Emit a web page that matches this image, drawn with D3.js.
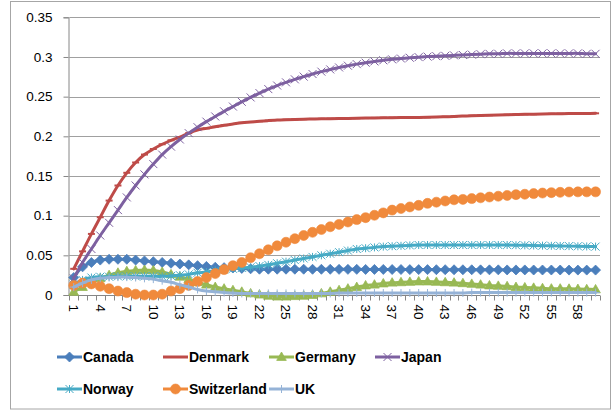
<!DOCTYPE html>
<html>
<head>
<meta charset="utf-8">
<script src="https://cdn.jsdelivr.net/npm/d3@7"></script>
<style>
  body { margin: 0; background: #fff; }
  svg text { font-family: "Liberation Sans", Arial, sans-serif; }
</style>
</head>
<body>
<div id="chart"></div>
<script>
// categories 1..60 along the x axis
var categories = d3.range(1, 61);
var xTickLabels = [1, 4, 7, 10, 13, 16, 19, 22, 25, 28, 31, 34, 37, 40, 43, 46, 49, 52, 55, 58];
var yTicks = [0, 0.05, 0.1, 0.15, 0.2, 0.25, 0.3, 0.35];

var canada = [0.022, 0.0355, 0.041, 0.044, 0.045, 0.045, 0.045, 0.044, 0.043, 0.042,
  0.041, 0.040, 0.039, 0.038, 0.037, 0.036, 0.035, 0.0345, 0.034, 0.0335,
  0.033, 0.0325, 0.0325, 0.0325, 0.0325, 0.0325, 0.0325, 0.0324, 0.0324, 0.0324,
  0.0323, 0.0323, 0.0323, 0.0322, 0.0322, 0.0322, 0.0321, 0.0321, 0.032, 0.032,
  0.032, 0.0319, 0.0319, 0.0318, 0.0318, 0.0318, 0.0317, 0.0317, 0.0317, 0.0316,
  0.0316, 0.0316, 0.0315, 0.0315, 0.0315, 0.0315, 0.0314, 0.0314, 0.0314, 0.0314];

var denmark = [0.033, 0.055, 0.077, 0.098, 0.119, 0.138, 0.154, 0.167, 0.177, 0.184,
  0.190, 0.195, 0.199, 0.204, 0.208, 0.210, 0.212, 0.214, 0.2155, 0.217,
  0.218, 0.219, 0.2198, 0.2205, 0.221, 0.2213, 0.2216, 0.2219, 0.222, 0.2222,
  0.2224, 0.2226, 0.2228, 0.223, 0.2232, 0.2234, 0.2235, 0.2236, 0.2237, 0.2238,
  0.224, 0.2243, 0.2247, 0.225, 0.2255, 0.226, 0.2263, 0.2266, 0.2269, 0.2272,
  0.2275, 0.2277, 0.2279, 0.2281, 0.2283, 0.2285, 0.2286, 0.2287, 0.2288, 0.229];

var germany = [0.004, 0.010, 0.016, 0.021, 0.025, 0.028, 0.030, 0.031, 0.0315, 0.031,
  0.029, 0.026, 0.023, 0.020, 0.016, 0.013, 0.010, 0.008, 0.006, 0.004,
  0.002, 0.0005, -0.001, -0.002, -0.002, -0.0015, -0.001, 0.000, 0.002, 0.004,
  0.006, 0.008, 0.010, 0.012, 0.013, 0.0145, 0.0155, 0.016, 0.0165, 0.017,
  0.017, 0.0165, 0.016, 0.0155, 0.0148, 0.014, 0.013, 0.012, 0.0115, 0.011,
  0.010, 0.0095, 0.009, 0.0085, 0.008, 0.008, 0.0078, 0.0075, 0.0072, 0.007];

var japan = [0.021, 0.041, 0.058, 0.075, 0.091, 0.107, 0.123, 0.138, 0.152, 0.165,
  0.177, 0.187, 0.196, 0.204, 0.2115, 0.2185, 0.225, 0.2315, 0.2375, 0.2435,
  0.249, 0.2545, 0.2595, 0.264, 0.268, 0.2718, 0.2752, 0.2785, 0.2815, 0.2843,
  0.2868, 0.289, 0.291, 0.2928, 0.2944, 0.2958, 0.297, 0.298, 0.299, 0.2998,
  0.3005, 0.301, 0.3015, 0.302, 0.3025, 0.303, 0.3035, 0.304, 0.304, 0.3045,
  0.3045, 0.3045, 0.3045, 0.3045, 0.3045, 0.3045, 0.3045, 0.3045, 0.304, 0.304];

var norway = [0.013, 0.019, 0.022, 0.023, 0.023, 0.0235, 0.0235, 0.0235, 0.0235, 0.0235,
  0.0235, 0.024, 0.025, 0.026, 0.028, 0.029, 0.031, 0.032, 0.033, 0.034,
  0.035, 0.0365, 0.038, 0.040, 0.042, 0.044, 0.046, 0.048, 0.050, 0.052,
  0.054, 0.056, 0.058, 0.059, 0.060, 0.061, 0.0615, 0.062, 0.0625, 0.063,
  0.063, 0.063, 0.063, 0.063, 0.063, 0.063, 0.063, 0.063, 0.063, 0.063,
  0.0628, 0.0626, 0.0624, 0.0622, 0.062, 0.0618, 0.0616, 0.0614, 0.0612, 0.061];

var switzerland = [0.012, 0.015, 0.014, 0.011, 0.008, 0.005, 0.003, 0.001, 0.0, 0.0,
  0.001, 0.005, 0.008, 0.012, 0.017, 0.022, 0.027, 0.032, 0.037, 0.041,
  0.047, 0.052, 0.057, 0.062, 0.0665, 0.071, 0.075, 0.079, 0.0825, 0.086,
  0.089, 0.092, 0.095, 0.0975, 0.1005, 0.1035, 0.107, 0.109, 0.111, 0.113,
  0.1155, 0.117, 0.1185, 0.12, 0.1205, 0.1215, 0.1225, 0.1235, 0.1245, 0.1255,
  0.1265, 0.127, 0.1278, 0.1285, 0.129, 0.1294, 0.1298, 0.130, 0.130, 0.130];

var uk = [0.010, 0.015, 0.019, 0.021, 0.022, 0.0225, 0.0225, 0.022, 0.021, 0.020,
  0.018, 0.016, 0.013, 0.010, 0.007, 0.005, 0.004, 0.003, 0.0025, 0.002,
  0.002, 0.002, 0.002, 0.002, 0.002, 0.002, 0.002, 0.002, 0.002, 0.002,
  0.0025, 0.0025, 0.0025, 0.0025, 0.0025, 0.0025, 0.0025, 0.0025, 0.0025, 0.0025,
  0.0025, 0.0025, 0.0025, 0.0025, 0.0025, 0.003, 0.003, 0.003, 0.003, 0.003,
  0.003, 0.003, 0.003, 0.003, 0.003, 0.003, 0.003, 0.003, 0.003, 0.003];

var seriesNames = ['Canada', 'Denmark', 'Germany', 'Japan', 'Norway', 'Switzerland', 'UK'];
var seriesValues = [canada, denmark, germany, japan, norway, switzerland, uk];
var seriesColors = ['#4A7EBB', '#BE4B48', '#98B954', '#7D60A0', '#46AAC5', '#F08A3C', '#95B3D7'];
var seriesMarkers = ['diamond', 'dash', 'triangle', 'x', 'star', 'circle', 'plus'];

var width = 613, height = 412;
var plot = {left: 69.3, right: 600, top: 17.3, bottom: 295};

var svg = d3.select('#chart').append('svg')
  .attr('width', width)
  .attr('height', height);

// chart border
svg.append('rect')
  .attr('x', 10.5).attr('y', 1.5)
  .attr('width', 600).attr('height', 407.5)
  .attr('fill', '#fff')
  .attr('stroke', '#A6A6A6')
  .attr('stroke-width', 1);

var x = d3.scaleBand()
  .domain(categories)
  .range([plot.left, plot.right]);

var y = d3.scaleLinear()
  .domain([0, 0.35])
  .range([plot.bottom, plot.top]);

function cx(i) { return x(categories[i]) + x.bandwidth() / 2; }

// gridlines
svg.append('g')
  .selectAll('line')
  .data(yTicks.filter(function (d) { return d > 0; }))
  .enter().append('line')
  .attr('x1', plot.left).attr('x2', plot.right)
  .attr('y1', function (d) { return Math.round(y(d)) + 0.5; })
  .attr('y2', function (d) { return Math.round(y(d)) + 0.5; })
  .attr('stroke', '#A0A0A0')
  .attr('stroke-width', 1);

// y axis
var yAxis = svg.append('g')
  .attr('transform', 'translate(' + (Math.round(plot.left) - 0.5) + ',0)')
  .call(d3.axisLeft(y).tickValues(yTicks).tickSize(5).tickPadding(11)
    .tickFormat(function (d) { return String(+d.toFixed(2)); }));
yAxis.select('.domain').attr('stroke', '#868686');
yAxis.selectAll('.tick line').attr('stroke', '#868686');
yAxis.selectAll('.tick text')
  .attr('font-size', '13.5px')
  .attr('fill', '#000');

// x axis: minor ticks at every category boundary
var xAxisY = Math.round(plot.bottom) + 0.5;
svg.append('line')
  .attr('x1', plot.left).attr('x2', plot.right)
  .attr('y1', xAxisY).attr('y2', xAxisY)
  .attr('stroke', '#868686');

svg.append('g')
  .selectAll('line')
  .data(categories.concat([null]))
  .enter().append('line')
  .attr('x1', function (d, i) { return Math.round(plot.left + i * x.step()) + 0.5; })
  .attr('x2', function (d, i) { return Math.round(plot.left + i * x.step()) + 0.5; })
  .attr('y1', xAxisY).attr('y2', xAxisY + 5)
  .attr('stroke', '#868686');

var xAxis = svg.append('g')
  .attr('transform', 'translate(0,' + xAxisY + ')')
  .call(d3.axisBottom(x).tickValues(xTickLabels).tickSize(0).tickSizeOuter(0));
xAxis.select('.domain').remove();
xAxis.selectAll('.tick text')
  .attr('font-size', '13.5px')
  .attr('fill', '#000')
  .attr('transform', 'rotate(90)')
  .attr('text-anchor', 'start')
  .attr('x', 9)
  .attr('y', 0)
  .attr('dy', '0.35em');

// marker drawing
function drawMarker(g, type, color, px, py) {
  var s;
  if (type === 'diamond') {
    s = 5;
    g.append('path')
      .attr('d', 'M' + px + ',' + (py - s) + 'L' + (px + s) + ',' + py + 'L' + px + ',' + (py + s) + 'L' + (px - s) + ',' + py + 'Z')
      .attr('fill', color).attr('stroke', color).attr('stroke-width', 0.8);
  } else if (type === 'triangle') {
    g.append('path')
      .attr('d', 'M' + px + ',' + (py - 5) + 'L' + (px + 4.8) + ',' + (py + 3.4) + 'L' + (px - 4.8) + ',' + (py + 3.4) + 'Z')
      .attr('fill', color).attr('stroke', color).attr('stroke-width', 0.8);
  } else if (type === 'circle') {
    g.append('circle')
      .attr('cx', px).attr('cy', py).attr('r', 5)
      .attr('fill', color).attr('stroke', color).attr('stroke-width', 0.6);
  } else if (type === 'x') {
    s = 4;
    g.append('path')
      .attr('d', 'M' + (px - s) + ',' + (py - s) + 'L' + (px + s) + ',' + (py + s) + 'M' + (px + s) + ',' + (py - s) + 'L' + (px - s) + ',' + (py + s))
      .attr('fill', 'none').attr('stroke', color).attr('stroke-width', 1);
  } else if (type === 'star') {
    s = 4;
    g.append('path')
      .attr('d', 'M' + (px - s) + ',' + (py - s) + 'L' + (px + s) + ',' + (py + s) + 'M' + (px + s) + ',' + (py - s) + 'L' + (px - s) + ',' + (py + s) + 'M' + px + ',' + (py - s) + 'L' + px + ',' + (py + s))
      .attr('fill', 'none').attr('stroke', color).attr('stroke-width', 1);
  } else if (type === 'plus') {
    s = 4;
    g.append('path')
      .attr('d', 'M' + (px - s) + ',' + py + 'L' + (px + s) + ',' + py + 'M' + px + ',' + (py - s) + 'L' + px + ',' + (py + s))
      .attr('fill', 'none').attr('stroke', color).attr('stroke-width', 1);
  } else if (type === 'dash') {
    g.append('path')
      .attr('d', 'M' + (px - 3.5) + ',' + py + 'L' + (px + 3.5) + ',' + py)
      .attr('fill', 'none').attr('stroke', color).attr('stroke-width', 2);
  }
}

var line = d3.line()
  .x(function (d, i) { return cx(i); })
  .y(function (d) { return y(d); })
  .curve(d3.curveCatmullRom.alpha(0.5));

seriesValues.forEach(function (vals, k) {
  var g = svg.append('g').attr('class', 'series');
  g.append('path')
    .datum(vals)
    .attr('d', line)
    .attr('fill', 'none')
    .attr('stroke', seriesColors[k])
    .attr('stroke-width', 3)
    .attr('stroke-linejoin', 'round')
    .attr('stroke-linecap', 'round');
  vals.forEach(function (v, i) {
    drawMarker(g, seriesMarkers[k], seriesColors[k], cx(i), y(v));
  });
});

// legend
var legendCols = [57, 163, 269, 375];
var legendRows = [357, 389];
seriesNames.forEach(function (name, k) {
  var lx = legendCols[k % 4];
  var ly = legendRows[Math.floor(k / 4)];
  var g = svg.append('g').attr('class', 'legend');
  g.append('line')
    .attr('x1', lx).attr('x2', lx + 25)
    .attr('y1', ly).attr('y2', ly)
    .attr('stroke', seriesColors[k])
    .attr('stroke-width', 3);
  if (seriesMarkers[k] !== 'dash') {
    drawMarker(g, seriesMarkers[k], seriesColors[k], lx + 12.5, ly);
  }
  g.append('text')
    .attr('x', lx + 26)
    .attr('y', ly + 5)
    .attr('font-size', '14px')
    .attr('font-weight', 'bold')
    .attr('fill', '#000')
    .text(name);
});
</script>
</body>
</html>
